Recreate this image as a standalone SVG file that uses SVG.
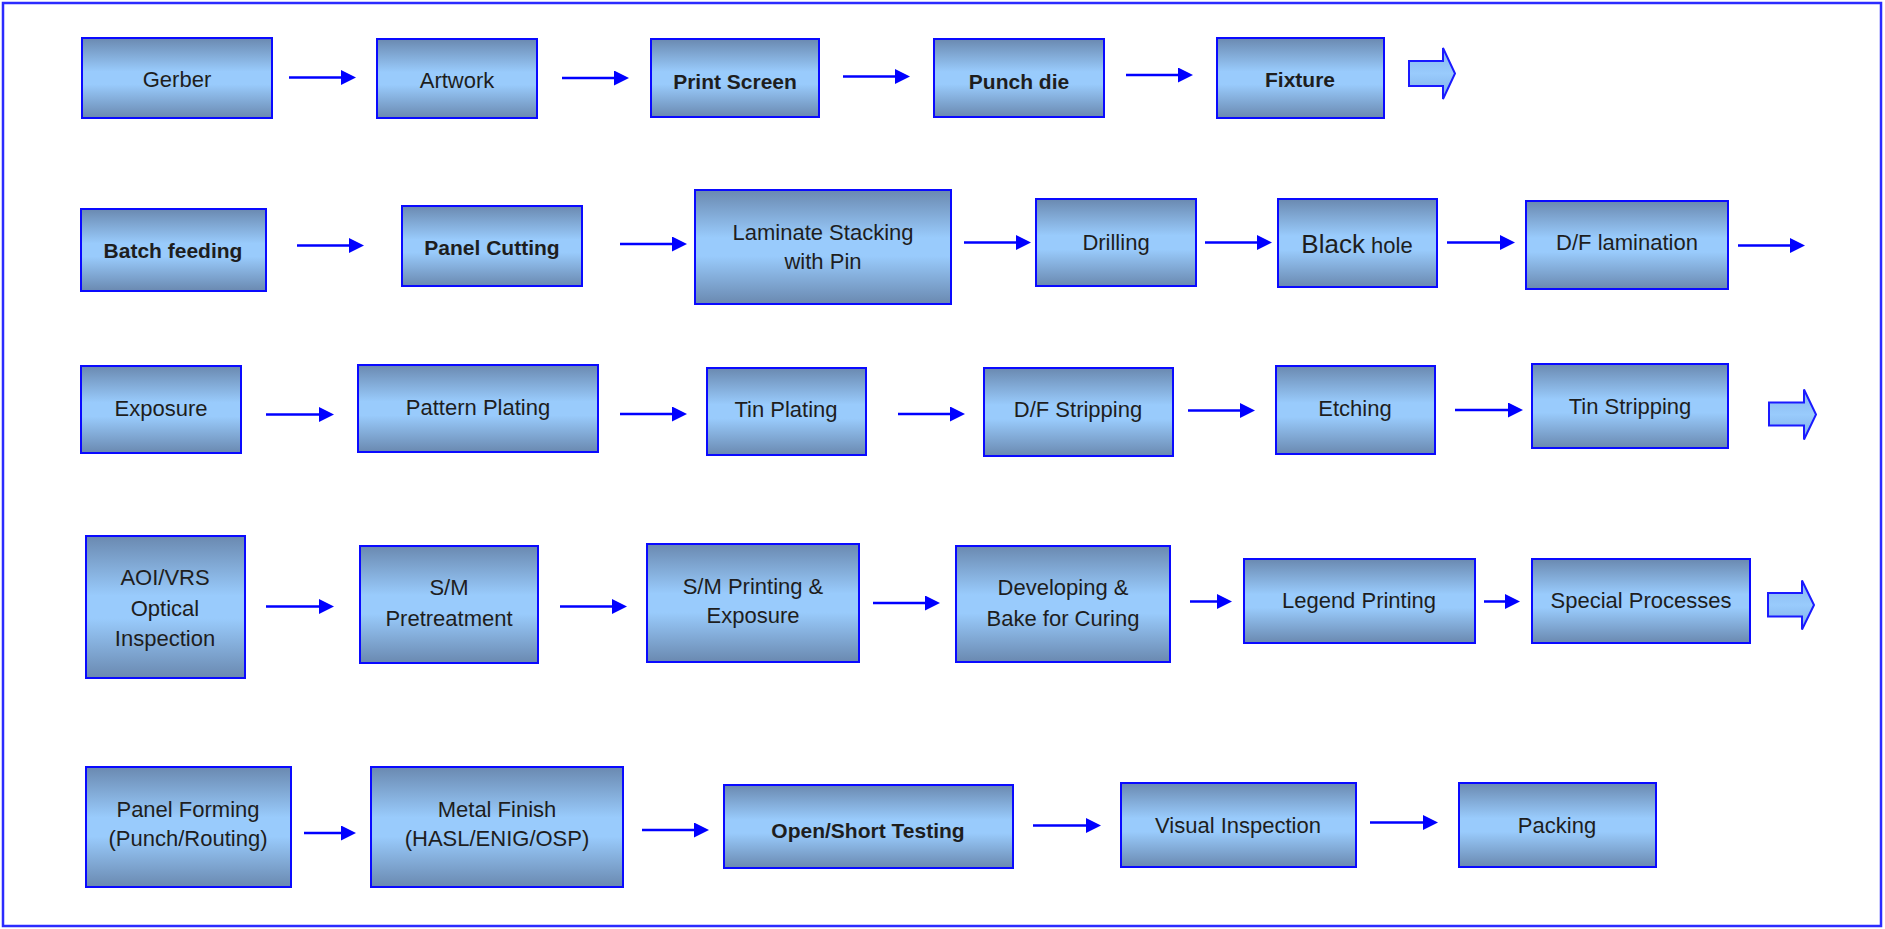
<svg xmlns="http://www.w3.org/2000/svg" width="1885" height="929" viewBox="0 0 1885 929">
<defs>
<linearGradient id="boxg" x1="0" y1="0" x2="0" y2="1">
<stop offset="0" stop-color="#6a89b0"/>
<stop offset="0.42" stop-color="#99cbfc"/>
<stop offset="0.58" stop-color="#99cbfc"/>
<stop offset="1" stop-color="#6a89b0"/>
</linearGradient>
<linearGradient id="bag" x1="0" y1="0" x2="0" y2="1">
<stop offset="0" stop-color="#86b6ee"/>
<stop offset="0.5" stop-color="#99cbfc"/>
<stop offset="1" stop-color="#7eaee6"/>
</linearGradient>
<marker id="ah" markerUnits="userSpaceOnUse" markerWidth="15" markerHeight="15" refX="4" refY="7.5" orient="auto">
<path d="M0,0 L15,7.5 L0,15 z" fill="#0000ff"/>
</marker>
</defs>
<style>
.box{fill:url(#boxg);stroke:#0a0aff;stroke-width:2}
.t{font-family:"Liberation Sans",Arial,sans-serif;font-size:22px;fill:#1e1e1e;text-anchor:middle}
.b{font-weight:bold;font-size:21px}
.c{stroke:#0000ff;stroke-width:2.5;fill:none;marker-end:url(#ah)}
.ba{fill:url(#bag);stroke:#1a1aff;stroke-width:2}
</style>
<rect x="3" y="3" width="1878" height="923" fill="#ffffff" stroke="#2b2bff" stroke-width="2.5"/>

<g id="n1"><rect class="box" x="82" y="38" width="190" height="80"/><text class="t" x="177" y="87">Gerber</text></g>
<g id="n2"><rect class="box" x="377" y="39" width="160" height="79"/><text class="t" x="457" y="88">Artwork</text></g>
<g id="n3"><rect class="box" x="651" y="39" width="168" height="78"/><text class="t b" x="735" y="89">Print Screen</text></g>
<g id="n4"><rect class="box" x="934" y="39" width="170" height="78"/><text class="t b" x="1019" y="89">Punch die</text></g>
<g id="n5"><rect class="box" x="1217" y="38" width="167" height="80"/><text class="t b" x="1300" y="87">Fixture</text></g>

<g id="n6"><rect class="box" x="81" y="209" width="185" height="82"/><text class="t b" x="173" y="258">Batch feeding</text></g>
<g id="n7"><rect class="box" x="402" y="206" width="180" height="80"/><text class="t b" x="492" y="255">Panel Cutting</text></g>
<g id="n8"><rect class="box" x="695" y="190" width="256" height="114"/><text class="t" x="823" y="240">Laminate Stacking</text><text class="t" x="823" y="269">with Pin</text></g>
<g id="n9"><rect class="box" x="1036" y="199" width="160" height="87"/><text class="t" x="1116" y="250">Drilling</text></g>
<g id="n10"><rect class="box" x="1278" y="199" width="159" height="88"/><text class="t" x="1357" y="253"><tspan font-size="26">Black</tspan> hole</text></g>
<g id="n11"><rect class="box" x="1526" y="201" width="202" height="88"/><text class="t" x="1627" y="250">D/F lamination</text></g>

<g id="n12"><rect class="box" x="81" y="366" width="160" height="87"/><text class="t" x="161" y="416">Exposure</text></g>
<g id="n13"><rect class="box" x="358" y="365" width="240" height="87"/><text class="t" x="478" y="415">Pattern Plating</text></g>
<g id="n14"><rect class="box" x="707" y="368" width="159" height="87"/><text class="t" x="786" y="417">Tin Plating</text></g>
<g id="n15"><rect class="box" x="984" y="368" width="189" height="88"/><text class="t" x="1078" y="417">D/F Stripping</text></g>
<g id="n16"><rect class="box" x="1276" y="366" width="159" height="88"/><text class="t" x="1355" y="416">Etching</text></g>
<g id="n17"><rect class="box" x="1532" y="364" width="196" height="84"/><text class="t" x="1630" y="414">Tin Stripping</text></g>

<g id="n18"><rect class="box" x="86" y="536" width="159" height="142"/><text class="t" x="165" y="585">AOI/VRS</text><text class="t" x="165" y="616">Optical</text><text class="t" x="165" y="646">Inspection</text></g>
<g id="n19"><rect class="box" x="360" y="546" width="178" height="117"/><text class="t" x="449" y="595">S/M</text><text class="t" x="449" y="626">Pretreatment</text></g>
<g id="n20"><rect class="box" x="647" y="544" width="212" height="118"/><text class="t" x="753" y="594">S/M Printing &amp;</text><text class="t" x="753" y="623">Exposure</text></g>
<g id="n21"><rect class="box" x="956" y="546" width="214" height="116"/><text class="t" x="1063" y="595">Developing &amp;</text><text class="t" x="1063" y="626">Bake for Curing</text></g>
<g id="n22"><rect class="box" x="1244" y="559" width="231" height="84"/><text class="t" x="1359" y="608">Legend Printing</text></g>
<g id="n23"><rect class="box" x="1532" y="559" width="218" height="84"/><text class="t" x="1641" y="608">Special Processes</text></g>

<g id="n24"><rect class="box" x="86" y="767" width="205" height="120"/><text class="t" x="188" y="817">Panel Forming</text><text class="t" x="188" y="846">(Punch/Routing)</text></g>
<g id="n25"><rect class="box" x="371" y="767" width="252" height="120"/><text class="t" x="497" y="817">Metal Finish</text><text class="t" x="497" y="846">(HASL/ENIG/OSP)</text></g>
<g id="n26"><rect class="box" x="724" y="785" width="289" height="83"/><text class="t b" x="868" y="838">Open/Short Testing</text></g>
<g id="n27"><rect class="box" x="1121" y="783" width="235" height="84"/><text class="t" x="1238" y="833">Visual Inspection</text></g>
<g id="n28"><rect class="box" x="1459" y="783" width="197" height="84"/><text class="t" x="1557" y="833">Packing</text></g>

<g id="connectors">
<line class="c" x1="289" y1="77.5" x2="345" y2="77.5"/>
<line class="c" x1="562" y1="78" x2="618" y2="78"/>
<line class="c" x1="843" y1="76.5" x2="899" y2="76.5"/>
<line class="c" x1="1126" y1="75" x2="1182" y2="75"/>
<line class="c" x1="297" y1="245.5" x2="353" y2="245.5"/>
<line class="c" x1="620" y1="244" x2="676" y2="244"/>
<line class="c" x1="964" y1="242.5" x2="1020" y2="242.5"/>
<line class="c" x1="1205" y1="242.5" x2="1261" y2="242.5"/>
<line class="c" x1="1447" y1="242.5" x2="1504" y2="242.5"/>
<line class="c" x1="1738" y1="245.5" x2="1794" y2="245.5"/>
<line class="c" x1="266" y1="414.5" x2="323" y2="414.5"/>
<line class="c" x1="620" y1="414" x2="676" y2="414"/>
<line class="c" x1="898" y1="414" x2="954" y2="414"/>
<line class="c" x1="1188" y1="410.5" x2="1244" y2="410.5"/>
<line class="c" x1="1455" y1="410" x2="1512" y2="410"/>
<line class="c" x1="266" y1="606.5" x2="323" y2="606.5"/>
<line class="c" x1="560" y1="606.5" x2="616" y2="606.5"/>
<line class="c" x1="873" y1="603" x2="929" y2="603"/>
<line class="c" x1="1190" y1="601.5" x2="1221" y2="601.5"/>
<line class="c" x1="1484" y1="601.5" x2="1509" y2="601.5"/>
<line class="c" x1="304" y1="833" x2="345" y2="833"/>
<line class="c" x1="642" y1="830" x2="698" y2="830"/>
<line class="c" x1="1033" y1="825.5" x2="1090" y2="825.5"/>
<line class="c" x1="1370" y1="822.5" x2="1427" y2="822.5"/>
<path class="ba" d="M1409,61 L1443,61 L1443,48 L1455,73.5 L1443,99 L1443,86 L1409,86 Z"/>
<path class="ba" d="M1769,402.5 L1804,402.5 L1804,389.5 L1816,414.5 L1804,439.5 L1804,425.5 L1769,425.5 Z"/>
<path class="ba" d="M1768,593 L1802,593 L1802,580.5 L1814,605 L1802,629.5 L1802,616.5 L1768,616.5 Z"/>
</g>
</svg>
